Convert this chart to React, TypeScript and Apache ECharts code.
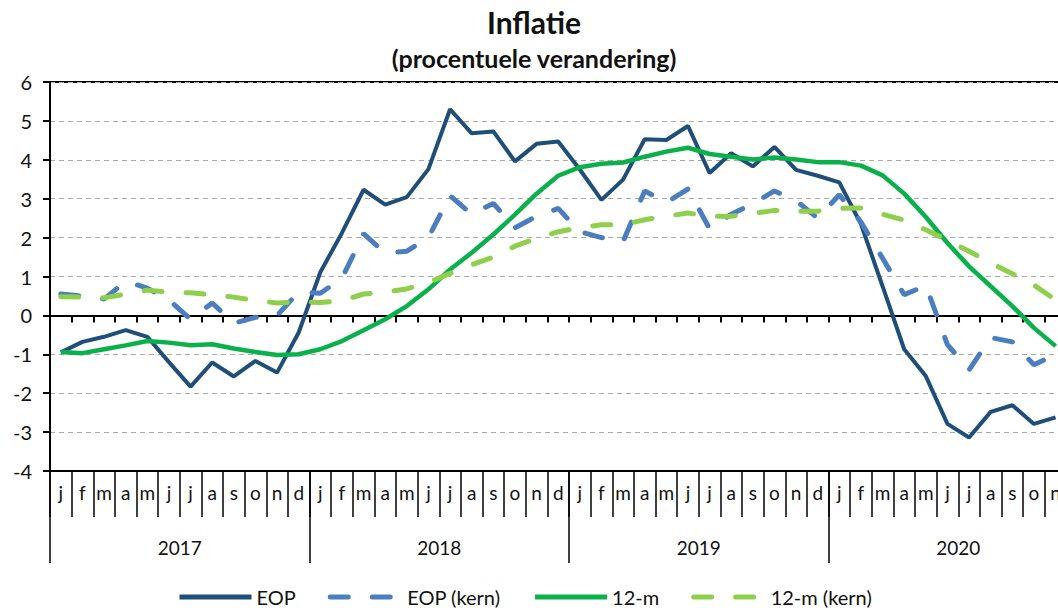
import React, { useEffect, useRef } from "react";
import * as echarts from "echarts";

const years = ["2017", "2018", "2019", "2020"];
const monthLetters = ["j", "f", "m", "a", "m", "j", "j", "a", "s", "o", "n", "d"];

const eop = [
  -0.95, -0.68, -0.55, -0.38, -0.55, -1.2, -1.83, -1.21, -1.57, -1.17, -1.47, -0.44,
  1.11, 2.12, 3.23, 2.85, 3.04, 3.76, 5.3, 4.68, 4.73, 3.96, 4.41, 4.47,
  3.75, 2.97, 3.49, 4.53, 4.51, 4.87, 3.66, 4.17, 3.83, 4.33, 3.74, 3.59,
  3.42, 2.35, 0.75, -0.87, -1.56, -2.79, -3.14, -2.48, -2.31, -2.79, -2.62, null,
];
const eopKern = [
  0.55, 0.5, 0.42, 0.88, 0.7, 0.4, -0.1, 0.32, -0.2, -0.05, 0.0, 0.6,
  0.57, 0.95, 2.1, 1.6, 1.65, 2.0, 3.08, 2.6, 2.88, 2.25, 2.55, 2.75,
  2.15, 2.0, 1.9, 3.2, 2.9, 3.25, 2.23, 2.6, 2.87, 3.2, 2.95, 2.5,
  3.1, 2.4, 1.47, 0.53, 0.77, -0.75, -1.4, -0.57, -0.68, -1.27, -1.0, null,
];
const twelveM = [
  -0.94, -0.97, -0.87, -0.77, -0.66, -0.7, -0.77, -0.74, -0.85, -0.94, -1.02, -1.0,
  -0.87, -0.66, -0.38, -0.1, 0.24, 0.67, 1.18, 1.61, 2.08, 2.59, 3.13, 3.59,
  3.81, 3.9, 3.93, 4.08, 4.21, 4.31, 4.15, 4.08, 4.01, 4.06, 4.01, 3.94,
  3.94, 3.85, 3.6, 3.13, 2.53, 1.86, 1.26, 0.75, 0.24, -0.32, -0.79, null,
];
const twelveMKern = [
  0.48, 0.47, 0.45, 0.55, 0.65, 0.6, 0.58, 0.53, 0.47, 0.38, 0.32, 0.35,
  0.33, 0.38, 0.55, 0.6, 0.68, 0.85, 1.08, 1.3, 1.5, 1.78, 1.98, 2.15,
  2.25, 2.33, 2.33, 2.46, 2.55, 2.63, 2.55, 2.55, 2.62, 2.7, 2.68, 2.68,
  2.75, 2.76, 2.6, 2.45, 2.2, 1.93, 1.65, 1.35, 1.07, 0.78, 0.4, null,
];

const categories = years.flatMap((y) => monthLetters.map((m, i) => `${y}-${i + 1}`));
const monthLabels = years.flatMap(() => monthLetters);

const FONT = "Lato";

export default function App() {
  const ref = useRef<HTMLDivElement>(null);
  useEffect(() => {
    if (!ref.current) return;
    const chart = echarts.init(ref.current, undefined, { renderer: "svg" });
    const lineSeries = (name: string, data: (number | null)[], color: string, dashed: boolean, width: number) => ({
      name,
      type: "line",
      data,
      xAxisIndex: 0,
      yAxisIndex: 0,
      symbol: "none",
      connectNulls: false,
      lineStyle: {
        color,
        width,
        type: dashed ? [18, 24] : "solid",
        cap: dashed ? "round" : "butt",
      },
      itemStyle: { color },
    });
    chart.setOption({
      animation: false,
      backgroundColor: "#fff",
      textStyle: { fontFamily: FONT },
      title: [
        {
          text: "Inflatie",
          left: 529,
          textAlign: "center",
          top: 2,
          textStyle: { fontFamily: FONT, fontSize: 30, fontWeight: "bold", color: "#111" },
        },
        {
          text: "(procentuele verandering)",
          left: 529,
          textAlign: "center",
          top: 40,
          textStyle: { fontFamily: FONT, fontSize: 25, fontWeight: "bold", color: "#111" },
        },
      ],
      grid: {
        left: 50,
        top: 82,
        width: 1038,
        height: 389,
        show: true,
        borderColor: "#000",
        borderWidth: 2,
        backgroundColor: "transparent",
      },
      legend: {
        bottom: 2,
        left: 172,
        itemWidth: 72,
        itemHeight: 8,
        itemGap: 32,
        itemStyle: { opacity: 0 },
        lineStyle: { width: 5 },
        textStyle: { fontFamily: FONT, fontSize: 20, color: "#111" },
        data: ["EOP", "EOP (kern)", "12-m", "12-m (kern)"],
      },
      xAxis: [
        {
          type: "category",
          data: categories,
          position: "bottom",
          boundaryGap: true,
          axisLine: { onZero: true, lineStyle: { color: "#000", width: 2 } },
          axisTick: { show: true, length: 7, interval: 0, lineStyle: { color: "#000", width: 2 } },
          axisLabel: { show: false },
          splitLine: { show: false },
        },
        {
          type: "category",
          data: monthLabels,
          position: "bottom",
          boundaryGap: true,
          axisLine: { onZero: false, show: true, lineStyle: { color: "#000", width: 2 } },
          axisTick: { show: true, length: 46, interval: 0, lineStyle: { color: "#000", width: 1.5 } },
          axisLabel: { show: true, interval: 0, margin: 12, fontFamily: FONT, fontSize: 19, color: "#111" },
          splitLine: { show: false },
        },
        {
          type: "category",
          data: years,
          position: "bottom",
          boundaryGap: true,
          axisLine: { onZero: false, show: false },
          axisTick: { show: true, length: 92, interval: 0, lineStyle: { color: "#000", width: 1.5 } },
          axisLabel: { show: true, interval: 0, margin: 67, fontFamily: FONT, fontSize: 19, color: "#111" },
          splitLine: { show: false },
        },
      ],
      yAxis: {
        type: "value",
        min: -4,
        max: 6,
        interval: 1,
        axisLine: { show: true, lineStyle: { color: "#000", width: 2 } },
        axisTick: { show: true, length: 7, lineStyle: { color: "#000", width: 2 } },
        axisLabel: { fontFamily: FONT, fontSize: 20, color: "#111", margin: 18 },
        splitLine: { show: true, lineStyle: { color: "#aaa", width: 1.2, type: [5, 4] } },
      },
      series: [
        lineSeries("EOP", eop, "#1f4e79", false, 4),
        lineSeries("EOP (kern)", eopKern, "#4a7ebf", true, 5),
        lineSeries("12-m", twelveM, "#0ab14a", false, 4.5),
        lineSeries("12-m (kern)", twelveMKern, "#8fcf4c", true, 5),
      ],
    });
    return () => chart.dispose();
  }, []);
  return (
    <div
      style={{ position: "fixed", left: 0, top: 0, width: 1058, height: 614, overflow: "hidden", background: "#fff" }}
    >
      <div ref={ref} style={{ width: 1100, height: 614 }} />
    </div>
  );
}
